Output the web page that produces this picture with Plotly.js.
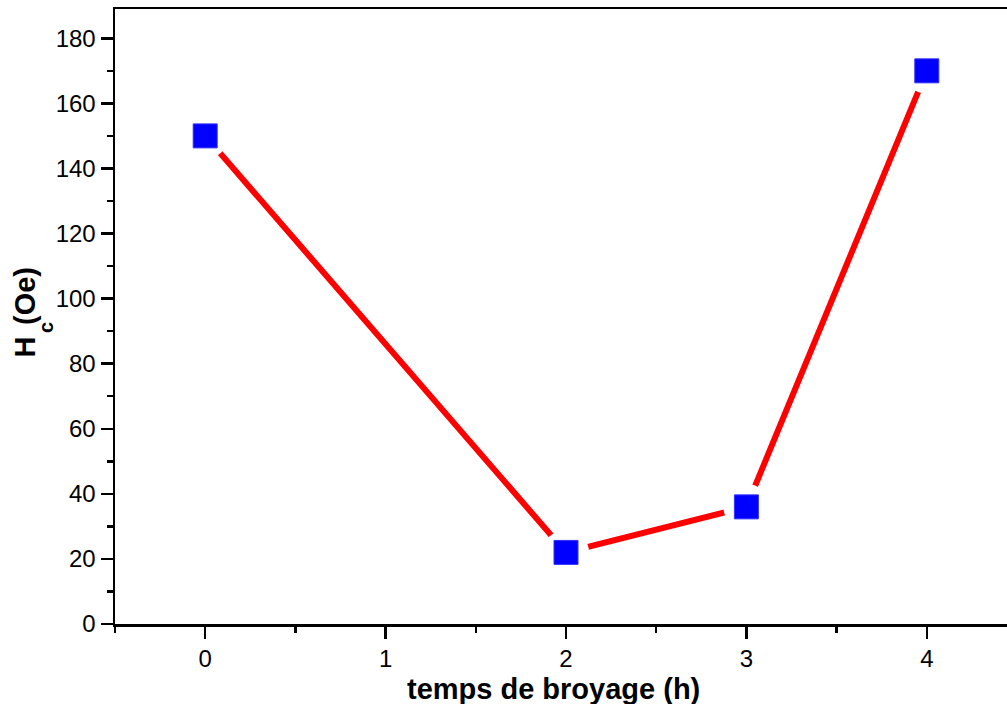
<!DOCTYPE html>
<html>
<head>
<meta charset="utf-8">
<script src="https://cdn.plot.ly/plotly-3.0.1.min.js"></script>
<style>
html,body{margin:0;padding:0;overflow:hidden;background:#fff;}
#chart{width:1024px;height:704px;}
</style>
</head>
<body>
<div id="chart"></div>
<script>
// Milling time (h) and coercive field Hc (Oe)
const millingTime = [0, 2, 3, 4];
const hcValues = [150, 22, 36, 170];

const xTitle = "temps de broyage (h)";
const yTitleMain = "H";
const yTitleSub = "c";
const yTitleUnit = "(Oe)";

const fontFam = "Liberation Sans, Arial, Helvetica, sans-serif";
const tickSize = 24;
const titleFont = {family: fontFam, size: 29, color: "#000", weight: "bold"};
const subFont = {family: fontFam, size: 20, color: "#000", weight: "bold"};

const traces = [
  {
    x: millingTime, y: hcValues, type: "scatter", mode: "lines",
    line: {color: "#FF0000", width: 6},
    hoverinfo: "skip", showlegend: false
  },
  {
    x: millingTime, y: hcValues, type: "scatter", mode: "markers",
    marker: {symbol: "circle", size: 46, color: "#FFFFFF", line: {width: 0}},
    hoverinfo: "skip", showlegend: false
  },
  {
    x: millingTime, y: hcValues, type: "scatter", mode: "markers",
    marker: {symbol: "square", size: 24, color: "#0000FF", line: {width: 1, color: "#3333FF"}},
    showlegend: false
  }
];

const layout = {
  width: 1024, height: 704,
  margin: {l: 115, r: 7, t: 9, b: 80},
  paper_bgcolor: "#fff", plot_bgcolor: "#fff",
  showlegend: false,
  font: {family: fontFam, size: tickSize, color: "#000"},
  xaxis: {
    range: [-0.5, 4.5], dtick: 1, tick0: 0, mirror: true,
    showline: true, linecolor: "#000", linewidth: 2.5,
    ticks: "outside", ticklen: 12, tickwidth: 2.5, tickcolor: "#000",
    showgrid: false, zeroline: false,
    tickfont: {family: fontFam, size: tickSize, color: "#000"},
    minor: {dtick: 0.5, tick0: 0, ticks: "outside", ticklen: 6, tickwidth: 2.5, tickcolor: "#000"}
  },
  yaxis: {
    range: [0, 189], dtick: 20, tick0: 0,
    showline: true, linecolor: "#000", linewidth: 2.5,
    ticks: "outside", ticklen: 12, tickwidth: 2.5, tickcolor: "#000",
    showgrid: false, zeroline: false,
    tickfont: {family: fontFam, size: tickSize, color: "#000"},
    minor: {dtick: 10, tick0: 0, ticks: "outside", ticklen: 6, tickwidth: 2.5, tickcolor: "#000"}
  },
  annotations: [
    {
      text: xTitle, xref: "paper", yref: "paper",
      x: 0.4856, y: 0, yshift: -65, xanchor: "center", yanchor: "middle",
      showarrow: false, font: titleFont
    },
    {
      text: yTitleMain, xref: "paper", yref: "paper",
      x: 0, xshift: -90, y: 0.4496, xanchor: "center", yanchor: "middle",
      textangle: -90, showarrow: false, font: titleFont
    },
    {
      text: yTitleSub, xref: "paper", yref: "paper",
      x: 0, xshift: -69, y: 0.4813, xanchor: "center", yanchor: "middle",
      textangle: -90, showarrow: false, font: subFont
    },
    {
      text: yTitleUnit, xref: "paper", yref: "paper",
      x: 0, xshift: -90, y: 0.5333, xanchor: "center", yanchor: "middle",
      textangle: -90, showarrow: false, font: titleFont
    }
  ]
};

Plotly.newPlot("chart", traces, layout, {displayModeBar: false, staticPlot: true}).then(function () {
  // make sure tick labels keep their intended size
  document.querySelectorAll(".xtick text, .ytick text").forEach(function (t) {
    t.style.fontSize = tickSize + "px";
    t.getBBox();
  });
});
</script>
</body>
</html>
